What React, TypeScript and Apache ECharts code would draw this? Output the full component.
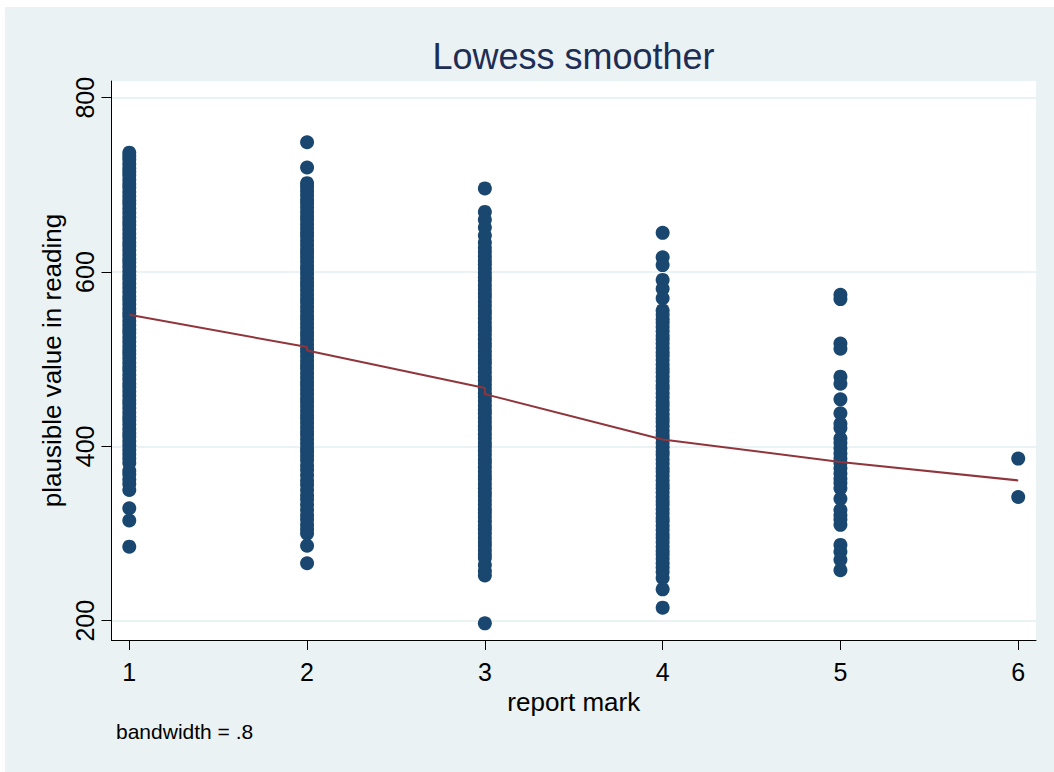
import React, { useEffect, useRef } from "react";
import * as echarts from "echarts";

const FONT = '"Liberation Sans", Arial, Helvetica, sans-serif';

// report mark categories (x values)
const reportMarks = [1, 2, 3, 4, 5, 6];

// plausible value in reading for each report mark
const mark1 = [
  737, 733, 729, 724, 719, 715, 711, 706, 701, 697, 692, 687, 682, 678, 673, 668, 663, 658, 654, 649,
  644, 639, 634, 630, 625, 620, 615, 611, 606, 601, 596, 592, 587, 582, 577, 572, 568, 563, 558, 553,
  549, 544, 539, 534, 530, 525, 520, 515, 510, 506, 501, 496, 491, 487, 482, 477, 472, 468, 463, 458,
  453, 449, 444, 439, 434, 430, 425, 420, 415, 411, 406, 401, 396, 391, 386, 381, 372, 368, 362, 357,
  350, 329, 315, 285,
];
const mark2 = [
  749, 720, 702, 698, 693, 688, 683, 679, 674, 669, 664, 660, 655, 650, 645, 641, 636, 631, 626, 622,
  617, 612, 607, 603, 598, 593, 588, 584, 579, 574, 569, 565, 560, 555, 550, 546, 541, 536, 531, 527,
  522, 517, 512, 508, 503, 498, 493, 489, 484, 479, 474, 470, 465, 460, 455, 451, 446, 441, 436, 432,
  427, 422, 417, 413, 408, 403, 398, 394, 389, 384, 378, 373, 367, 361, 356, 350, 344, 339, 333, 327,
  321, 316, 310, 305, 300, 286, 266,
];
const mark3 = [
  696, 669, 660, 651, 642, 634, 628, 623, 618, 613, 609, 604, 599, 594, 590, 585, 580, 575, 571, 566,
  561, 556, 552, 547, 542, 537, 533, 528, 523, 518, 514, 509, 504, 499, 495, 490, 485, 480, 476, 471,
  466, 461, 457, 452, 447, 442, 438, 433, 428, 423, 419, 414, 409, 404, 400, 395, 390, 385, 381, 376,
  371, 366, 362, 357, 352, 347, 343, 338, 333, 328, 324, 319, 314, 309, 305, 300, 295, 290, 286, 281,
  276, 272, 264, 257, 252, 197,
];
const mark4 = [
  645, 617, 608, 591, 581, 570, 556, 551, 546, 542, 537, 532, 527, 523, 518, 513, 508, 504, 499, 494,
  489, 485, 480, 475, 470, 466, 461, 456, 451, 447, 442, 437, 432, 428, 423, 418, 413, 409, 404, 399,
  394, 390, 385, 380, 375, 371, 366, 361, 356, 352, 347, 342, 337, 333, 328, 323, 318, 314, 309, 304,
  299, 295, 290, 285, 280, 276, 271, 266, 261, 256, 249, 236, 215,
];
const mark5 = [
  574, 569, 518, 512, 480, 472, 454, 438, 426, 421, 409, 404, 398, 392, 386, 381, 375, 369, 363, 358,
  352, 340, 327, 321, 316, 310, 287, 279, 270, 258,
];
const mark6 = [386, 342];

const columns = [mark1, mark2, mark3, mark4, mark5, mark6];

// lowess smoother (bandwidth .8)
const lowessX = [1, 2, 2, 3, 3, 4, 5, 6];
const lowessY = [551, 514, 510, 467, 460, 408, 382, 361];

// tick labels
const xTicks = [1, 2, 3, 4, 5, 6];
const yTicks = [200, 400, 600, 800];

export default function App() {
  const ref = useRef<HTMLDivElement>(null);

  useEffect(() => {
    if (!ref.current) return;
    const chart = echarts.init(ref.current, null, { renderer: "svg" });

    const scatterData: number[][] = [];
    columns.forEach((vals, i) => {
      vals.forEach((v) => scatterData.push([reportMarks[i], v]));
    });
    const lowessData = lowessX.map((x, i) => [x, lowessY[i]]);

    chart.setOption({
      animation: false,
      backgroundColor: "#ffffff",
      textStyle: { fontFamily: FONT },
      graphic: [
        {
          type: "rect",
          z: -100,
          silent: true,
          shape: { x: 5, y: 7, width: 1049, height: 765 },
          style: { fill: "#EAF2F3" },
        },
        {
          type: "text",
          z: 100,
          x: 573.5,
          y: 56.5,
          style: {
            text: "Lowess smoother",
            font: `36px ${FONT}`,
            fill: "#1E2D53",
            textAlign: "center",
            verticalAlign: "middle",
          },
        },
        {
          type: "text",
          z: 100,
          x: 116,
          y: 731.7,
          style: {
            text: "bandwidth = .8",
            font: `21px ${FONT}`,
            fill: "#000000",
            textAlign: "left",
            verticalAlign: "middle",
          },
        },
      ],
      grid: {
        left: 111.5,
        right: 18,
        top: 81,
        bottom: 132,
        show: true,
        backgroundColor: "#ffffff",
        borderWidth: 0,
      },
      xAxis: {
        type: "value",
        min: 0.9,
        max: 6.1,
        name: "report mark",
        nameLocation: "middle",
        nameGap: 44,
        nameTextStyle: { fontSize: 26, color: "#000000", fontFamily: FONT },
        axisLine: { show: true, onZero: false, lineStyle: { color: "#000000", width: 1 } },
        axisTick: {
          show: true,
          length: 10,
          customValues: xTicks,
          lineStyle: { color: "#000000", width: 1 },
        },
        axisLabel: {
          customValues: xTicks,
          fontSize: 25,
          margin: 19,
          color: "#000000",
          fontFamily: FONT,
        },
        splitLine: { show: false },
      },
      yAxis: {
        type: "value",
        min: 177.9,
        max: 819.2,
        name: "plausible value in reading",
        nameLocation: "middle",
        nameGap: 45,
        nameTextStyle: { fontSize: 26, color: "#000000", fontFamily: FONT },
        axisLine: { show: true, onZero: false, lineStyle: { color: "#000000", width: 1 } },
        axisTick: {
          show: true,
          length: 10,
          customValues: yTicks,
          lineStyle: { color: "#000000", width: 1 },
        },
        axisLabel: {
          customValues: yTicks,
          rotate: 90,
          fontSize: 25,
          margin: 14,
          color: "#000000",
          fontFamily: FONT,
        },
        splitLine: { show: false },
      },
      series: [
        {
          type: "scatter",
          data: [],
          z: 0,
          silent: true,
          markLine: {
            z: 0,
            silent: true,
            symbol: "none",
            label: { show: false },
            lineStyle: { color: "#EAF2F3", width: 2, type: "solid" },
            data: yTicks.map((v) => ({ yAxis: v })),
          },
        },
        {
          type: "scatter",
          data: scatterData,
          symbol: "circle",
          symbolSize: 14,
          itemStyle: { color: "#1A476F", opacity: 1 },
          z: 2,
        },
        {
          type: "line",
          data: lowessData,
          showSymbol: false,
          symbol: "none",
          lineStyle: { color: "#90353B", width: 2 },
          z: 3,
        },
      ],
    });

    return () => chart.dispose();
  }, []);

  return (
    <div
      ref={ref}
      style={{ position: "fixed", left: 0, top: 0, width: 1054, height: 772 }}
    />
  );
}
